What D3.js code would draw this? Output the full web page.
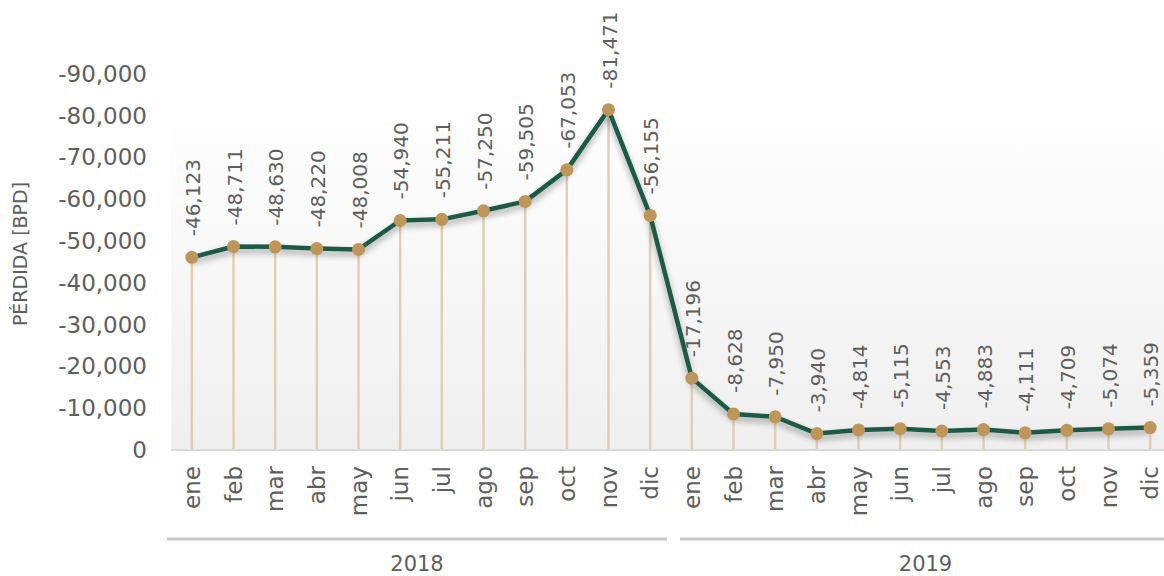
<!DOCTYPE html>
<html>
<head>
<meta charset="utf-8">
<script src="https://cdn.jsdelivr.net/npm/d3@7"></script>
<style>
  body { margin: 0; background: #fff; }
  text { font-family: "DejaVu Sans", sans-serif; fill: #5e5e5e; }
</style>
</head>
<body>
<svg width="1164" height="576"></svg>
<script>
const months = ["ene","feb","mar","abr","may","jun","jul","ago","sep","oct","nov","dic"];
const years = ["2018", "2019"];
const loss2018 = [46123, 48711, 48630, 48220, 48008, 54940, 55211, 57250, 59505, 67053, 81471, 56155];
const loss2019 = [17196, 8628, 7950, 3940, 4814, 5115, 4553, 4883, 4111, 4709, 5074, 5359];
const yTicks = [0, 10000, 20000, 30000, 40000, 50000, 60000, 70000, 80000, 90000];

let data = [];
[loss2018, loss2019].forEach((arr, g) => {
  arr.forEach((v, i) => data.push({ key: g * 12 + i, month: months[i], year: years[g], value: v }));
});

const svg = d3.select("svg");
const baseY = 450;
const x = d3.scaleBand().domain(data.map(d => d.key)).range([171, 1171]).padding(0);
const y = d3.scaleLinear().domain([0, 90000]).range([baseY, 74]);
const cx = d => x(d.key) + x.bandwidth() / 2;
const fmt = d3.format(",");

// plot background
const defs = svg.append("defs");
const grad = defs.append("linearGradient").attr("id", "bg").attr("x1", 0).attr("y1", 0).attr("x2", 0).attr("y2", 1);
grad.append("stop").attr("offset", "0%").attr("stop-color", "#fefefe");
grad.append("stop").attr("offset", "100%").attr("stop-color", "#efefef");
const shadow = defs.append("filter").attr("id", "shadow").attr("x", "-5%").attr("y", "-20%").attr("width", "110%").attr("height", "140%");
shadow.append("feDropShadow").attr("dx", 0).attr("dy", 4).attr("stdDeviation", 3)
  .attr("flood-color", "#000").attr("flood-opacity", 0.35);

svg.append("rect")
  .attr("x", 171).attr("y", 120)
  .attr("width", 1164 - 171).attr("height", baseY - 120)
  .attr("fill", "url(#bg)");

// y axis
const yAxis = d3.axisLeft(y).tickValues(yTicks).tickSize(0).tickPadding(0)
  .tickFormat(d => d === 0 ? "0" : "-" + fmt(d));
svg.append("g")
  .attr("class", "y axis")
  .attr("transform", "translate(147,0)")
  .call(yAxis)
  .call(g => g.select(".domain").remove())
  .selectAll("text")
  .style("font-size", "23px")
  .attr("fill", "#5e5e5e");

svg.append("text")
  .attr("transform", "translate(27,254) rotate(-90)")
  .attr("text-anchor", "middle")
  .style("font-size", "19px")
  .text("PÉRDIDA [BPD]");

// drop lines
svg.selectAll(".drop")
  .data(data)
  .enter()
  .append("line")
  .attr("class", "drop")
  .attr("x1", cx).attr("x2", cx)
  .attr("y1", d => y(d.value)).attr("y2", baseY)
  .attr("stroke", "#e2cfb2")
  .attr("stroke-width", 2.5);

// baseline
svg.append("line")
  .attr("x1", 171).attr("x2", 1164)
  .attr("y1", baseY).attr("y2", baseY)
  .attr("stroke", "#d9d9d9").attr("stroke-width", 2);

// line
const line = d3.line().x(cx).y(d => y(d.value));
svg.append("path")
  .datum(data)
  .attr("d", line)
  .attr("fill", "none")
  .attr("stroke", "#1e5a47")
  .attr("stroke-width", 4.5)
  .attr("stroke-linejoin", "round")
  .attr("filter", "url(#shadow)");

svg.selectAll(".dot")
  .data(data)
  .enter()
  .append("circle")
  .attr("class", "dot")
  .attr("cx", cx)
  .attr("cy", d => y(d.value))
  .attr("r", 6.5)
  .attr("fill", "#bf965a");

// value labels
svg.selectAll(".lbl")
  .data(data)
  .enter()
  .append("text")
  .attr("class", "lbl")
  .attr("transform", d => `translate(${cx(d) + 1},${y(d.value) - 21}) rotate(-90)`)
  .attr("dy", "0.36em")
  .style("font-size", "20px")
  .text(d => "-" + fmt(d.value));

// month axis
const xAxis = d3.axisBottom(x).tickSize(0).tickFormat(k => data[k].month);
svg.append("g")
  .attr("class", "x axis")
  .attr("transform", `translate(0,${baseY})`)
  .call(xAxis)
  .call(g => g.select(".domain").remove())
  .selectAll("text")
  .attr("transform", "translate(0,16) rotate(-90)")
  .attr("text-anchor", "end")
  .attr("x", 0).attr("y", 0)
  .attr("dy", "0.36em")
  .attr("fill", "#5e5e5e")
  .style("font-size", "23px");

// year groups
years.forEach((yr, g) => {
  const first = x(g * 12), last = x(g * 12 + 11) + x.bandwidth();
  const x0 = g === 0 ? first - 4 : first + 9;
  const x1 = g === 0 ? last - 4 : last;
  svg.append("line")
    .attr("x1", x0).attr("x2", x1)
    .attr("y1", 539).attr("y2", 539)
    .attr("stroke", "#c9c9c9").attr("stroke-width", 3);
  svg.append("text")
    .attr("x", (x0 + x1) / 2).attr("y", 571)
    .attr("text-anchor", "middle")
    .style("font-size", "21px")
    .text(yr);
});
</script>
</body>
</html>
